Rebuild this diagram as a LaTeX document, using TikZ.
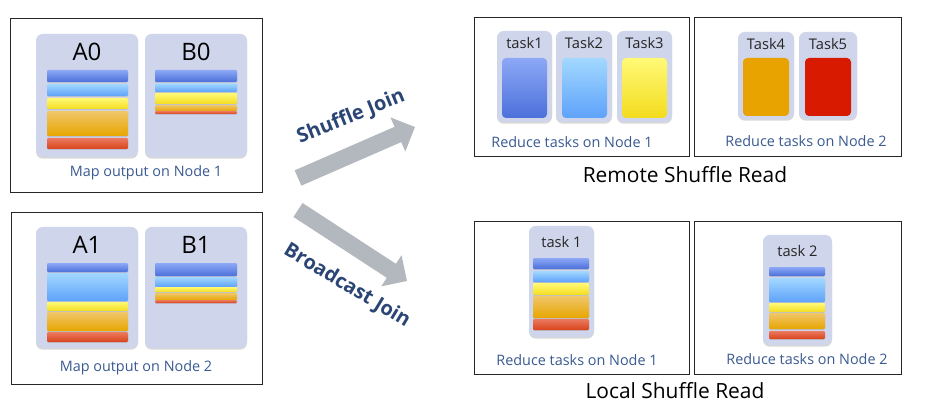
\documentclass[tikz,border=0pt]{standalone}
\usepackage{fontspec}
\setmainfont{Open Sans}
\usetikzlibrary{shadows,arrows.meta}
\definecolor{cardc}{HTML}{CFD5EA}
\definecolor{lbl}{HTML}{3A5A92}
\definecolor{jn}{HTML}{2B4675}
\definecolor{arr}{HTML}{B3B8BE}
\definecolor{bluet}{HTML}{8CA8F6}
\definecolor{blueb}{HTML}{4C70DA}
\definecolor{lbluet}{HTML}{A2D8FF}
\definecolor{lblueb}{HTML}{5EA2FA}
\definecolor{yelt}{HTML}{FFF976}
\definecolor{yelb}{HTML}{F3DC1E}
\definecolor{orat}{HTML}{F0C66A}
\definecolor{orab}{HTML}{E8A600}
\definecolor{redt}{HTML}{EC7A60}
\definecolor{redb}{HTML}{D8441A}
\definecolor{t4}{HTML}{E8A300}
\definecolor{t5}{HTML}{D81B00}
\tikzset{
  panel/.style={draw=black!85, line width=0.7pt},
  card/.style={fill=cardc, rounded corners=5pt, drop shadow={opacity=0.3, shadow xshift=0pt, shadow yshift=-1.2pt}},
  strp/.style={rounded corners=0.8pt, top color=#1t, bottom color=#1b, drop shadow={opacity=0.25, shadow xshift=0pt, shadow yshift=-0.6pt}},
  big/.style={font=\fontsize{18}{20}\selectfont, text=black, inner sep=1pt},
  tsk/.style={font=\fontsize{11}{13}\selectfont, text=black!85, inner sep=1pt},
  lab/.style={font=\fontsize{10.8}{12}\selectfont, text=lbl, inner sep=1pt},
  ttl/.style={font=\fontsize{15.7}{18}\selectfont, text=black, inner sep=1pt},
  joinlbl/.style={font=\bfseries\fontsize{15}{17}\selectfont, text=jn, inner sep=0pt},
  fat/.style={draw=arr, line width=12.5pt, -{Triangle[length=14pt, width=27pt]}}
}
\newcommand\stripe[5]{\path[strp=#5] (#1,#2) rectangle (#3,#4);}
\begin{document}
\begin{tikzpicture}[x=0.75pt,y=-0.75pt]
\useasboundingbox[fill=white] (0,0) rectangle (927,420);
% ---- left panels
\draw[panel] (10,18) rectangle (262,192);
\draw[panel] (11,212) rectangle (262,384);
% node 1 cards
\path[card] (36,34) rectangle (138,157);
\path[card] (145,34) rectangle (247,157);
\node[big] (a0) at (87,52) {A0};
\node[big] (b0) at (196,52) {B0};
\stripe{47}{70}{128}{82}{blue}
\stripe{47}{84}{128}{96}{lblue}
\stripe{47}{98}{128}{109}{yel}
\stripe{47}{111}{128}{136}{ora}
\stripe{47}{138}{128}{149}{red}
\stripe{155}{70}{237}{82}{blue}
\stripe{155}{83.5}{237}{92}{lblue}
\stripe{155}{93}{237}{104}{yel}
\stripe{155}{105}{237}{111}{ora}
\stripe{155}{111}{237}{114}{red}
\node[lab] (m1) at (146,173) {Map output on Node 1};
% node 2 cards
\path[card] (36,227) rectangle (138,348);
\path[card] (145,227) rectangle (247,348);
\node[big] (a1) at (87,245) {A1};
\node[big] (b1) at (196,245) {B1};
\stripe{47}{263}{128}{272}{blue}
\stripe{47}{273}{128}{301}{lblue}
\stripe{47}{302}{128}{311}{yel}
\stripe{47}{312}{128}{331}{ora}
\stripe{47}{332}{128}{342}{red}
\stripe{155}{263}{237}{276}{blue}
\stripe{155}{277}{237}{287}{lblue}
\stripe{155}{287}{237}{292}{yel}
\stripe{155}{293}{237}{300}{ora}
\stripe{155}{300}{237}{303}{red}
\node[lab] (m2) at (136,368) {Map output on Node 2};
% ---- arrows
\coordinate (s0) at (298,178);
\coordinate (s1) at (415,127);
\coordinate (r0) at (298,210);
\coordinate (r1) at (407,281);
\draw[fat] (s0) -- (s1);
\draw[fat] (r0) -- (r1);
\node[joinlbl, rotate=22] (sj) at (351,117) {Shuffle Join};
\node[joinlbl, rotate=-31] (bj) at (347,286) {Broadcast Join};
% ---- remote shuffle read
\draw[panel] (474,17) rectangle (689,156);
\draw[panel] (694,17) rectangle (901,156);
\path[card] (497,31) rectangle (552,122);
\path[card] (556,31) rectangle (612,122);
\path[card] (617,31) rectangle (672,122);
\path[card] (738,32) rectangle (794,119);
\path[card] (799,32) rectangle (857,119);
\node[tsk] (k1) at (524.5,43) {task1};
\node[tsk] (k2) at (584,43) {Task2};
\node[tsk] (k3) at (644.5,43) {Task3};
\node[tsk] (k4) at (766,44) {Task4};
\node[tsk] (k5) at (828,44) {Task5};
\path[rounded corners=3pt, top color=bluet, bottom color=blueb] (502,58) rectangle (547,118);
\path[rounded corners=3pt, top color=lbluet, bottom color=lblueb] (562,58) rectangle (607,118);
\path[rounded corners=3pt, top color=yelt, bottom color=yelb] (622,58) rectangle (667,118);
\path[rounded corners=3pt, fill=t4] (743,58) rectangle (789,116);
\path[rounded corners=3pt, fill=t5] (805,58) rectangle (851,116);
\node[lab] (rn1) at (572,142) {Reduce tasks on Node 1};
\node[lab] (rn2) at (806,141) {Reduce tasks on Node 2};
\node[ttl] (rsr) at (685,175) {Remote Shuffle Read};
% ---- local shuffle read
\draw[panel] (474,221) rectangle (689,374);
\draw[panel] (694,221) rectangle (901,374);
\path[card] (529,226) rectangle (594,337);
\path[card] (763,235) rectangle (832,345);
\node[tsk] (l1) at (561.5,242) {task 1};
\node[tsk] (l2) at (797.5,251) {task 2};
\stripe{533}{258}{589}{269}{blue}
\stripe{533}{271}{589}{282}{lblue}
\stripe{533}{283}{589}{295}{yel}
\stripe{533}{296}{589}{318}{ora}
\stripe{533}{319}{589}{330}{red}
\stripe{769}{267}{825}{276}{blue}
\stripe{769}{278}{825}{302}{lblue}
\stripe{769}{303}{825}{312}{yel}
\stripe{769}{313}{825}{329}{ora}
\stripe{769}{331}{825}{339}{red}
\node[lab] (ln1) at (577,360) {Reduce tasks on Node 1};
\node[lab] (ln2) at (807,359) {Reduce tasks on Node 2};
\node[ttl] (lsr) at (675,391) {Local Shuffle Read};
\end{tikzpicture}
\end{document}
